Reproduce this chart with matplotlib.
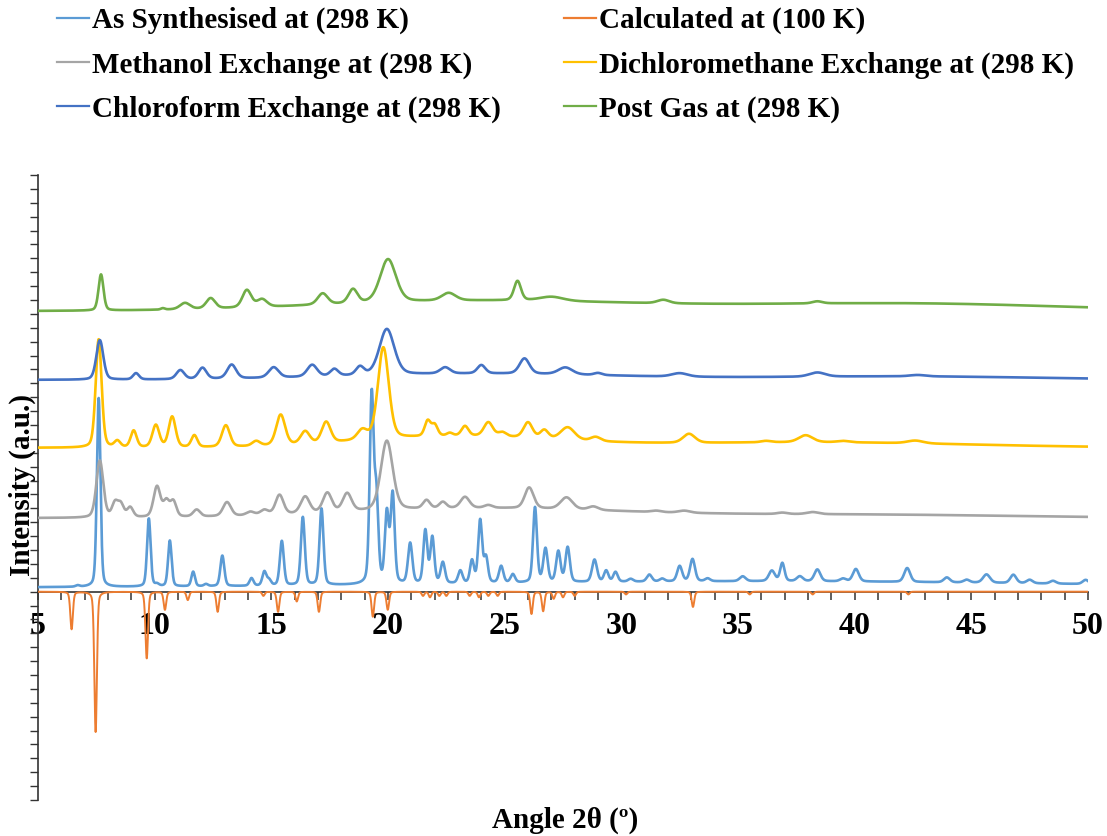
import numpy as np
from matplotlib import pyplot as plt
from matplotlib.lines import Line2D

plt.rcParams['font.family'] = ['Liberation Serif', 'DejaVu Serif']
plt.rcParams['font.weight'] = 'bold'

# Peak tables for each pattern: centre (2theta, deg), height, FWHM (deg).
# Heights are in the stacked intensity units of the plot.
as_synth_offset = 0.3
as_synth_pos = [6.7, 7.6, 9.75, 10.1, 10.65, 11.65, 12.2, 12.9, 14.15, 14.7, 14.9,
                15.45, 16.35, 17.15, 19.3, 19.5, 19.95, 20.2, 20.95, 21.6, 21.9,
                22.35, 23.1, 23.6, 23.95, 24.2, 24.85, 25.35, 26.3, 26.75, 27.3,
                27.7, 28.85, 29.35, 29.75, 30.4, 31.2, 31.75, 32.5, 33.05, 33.7,
                35.2, 36.45, 36.9, 37.65, 38.4, 39.5, 40.05, 42.25, 43.95, 44.8,
                45.65, 46.8, 47.5, 48.5, 49.9]
as_synth_amp = [0.1, 13.6, 4.9, 0.15, 3.3, 1.05, 0.15, 2.2, 0.55, 1.0, 0.4,
                3.2, 4.9, 5.5, 13.4, 6.0, 5.0, 6.4, 2.9, 3.8, 3.3,
                1.5, 0.9, 1.6, 4.5, 1.8, 1.2, 0.6, 5.4, 2.4, 2.2,
                2.5, 1.6, 0.8, 0.7, 0.2, 0.5, 0.2, 1.1, 1.6, 0.2,
                0.35, 0.75, 1.3, 0.35, 0.85, 0.2, 0.9, 1.0, 0.35, 0.2,
                0.6, 0.6, 0.25, 0.2, 0.3]
as_synth_fwhm = [0.2, 0.18, 0.18, 0.2, 0.18, 0.18, 0.2, 0.2, 0.2, 0.2, 0.2,
                 0.2, 0.2, 0.2, 0.2, 0.2, 0.2, 0.2, 0.22, 0.2, 0.2,
                 0.22, 0.22, 0.2, 0.2, 0.2, 0.22, 0.22, 0.2, 0.22, 0.22,
                 0.22, 0.25, 0.22, 0.22, 0.25, 0.25, 0.25, 0.25, 0.25, 0.25,
                 0.3, 0.3, 0.22, 0.3, 0.3, 0.3, 0.3, 0.3, 0.3, 0.3,
                 0.35, 0.3, 0.3, 0.3, 0.3]
as_synth_hump = [(36.0, 0.45, 30.0)]

calc_pos = [6.44, 7.47, 9.66, 10.44, 11.42, 12.7, 14.66, 15.29, 16.09, 17.04,
            19.35, 19.99, 21.5, 21.8, 22.2, 22.5, 23.5, 23.9, 24.3, 24.7,
            26.15, 26.65, 27.1, 27.5, 28.0, 30.2, 33.07, 35.5, 38.2, 42.3]
calc_amp = [-2.7, -10.1, -4.8, -1.3, -0.6, -1.45, -0.3, -1.45, -0.7, -1.45,
            -1.8, -1.3, -0.3, -0.4, -0.3, -0.3, -0.3, -0.4, -0.3, -0.3,
            -1.6, -1.4, -0.5, -0.4, -0.3, -0.2, -1.1, -0.2, -0.2, -0.2]
calc_fwhm = [0.13] * len(calc_pos)

meoh_offset = 5.3
meoh_pos = [7.65, 8.3, 8.55, 8.95, 10.1, 10.5, 10.8, 11.8, 13.1, 14.1, 14.7,
            15.35, 16.45, 17.4, 18.25, 19.95, 21.65, 22.35, 23.3, 24.3, 26.05,
            27.65, 28.8, 31.5, 32.7, 36.9, 38.2]
meoh_amp = [4.1, 1.0, 0.9, 0.7, 2.2, 1.1, 1.1, 0.5, 1.0, 0.25, 0.35,
            1.4, 1.2, 1.4, 1.3, 5.0, 0.6, 0.45, 0.8, 0.2, 1.5,
            0.85, 0.25, 0.1, 0.15, 0.1, 0.15]
meoh_fwhm = [0.35, 0.3, 0.3, 0.3, 0.35, 0.3, 0.3, 0.35, 0.4, 0.4, 0.4,
             0.4, 0.45, 0.45, 0.45, 0.6, 0.35, 0.35, 0.45, 0.4, 0.45,
             0.6, 0.5, 0.5, 0.6, 0.5, 0.6]
meoh_hump = [(24.0, 0.7, 14.0), (40.0, 0.25, 16.0)]

dcm_offset = 10.36
dcm_pos = [7.6, 8.4, 9.1, 10.05, 10.75, 11.7, 13.05, 14.35, 15.4, 16.45, 17.35,
           18.9, 19.8, 21.7, 22.0, 22.65, 23.3, 24.3, 24.9, 26.0, 26.7, 27.7,
           28.9, 32.9, 36.2, 37.9, 39.5, 42.6]
dcm_amp = [7.8, 0.45, 1.2, 1.6, 2.2, 0.85, 1.55, 0.35, 2.2, 0.9, 1.5,
           0.7, 6.6, 1.1, 0.8, 0.2, 0.7, 1.0, 0.3, 1.1, 0.6, 0.9,
           0.3, 0.65, 0.1, 0.5, 0.1, 0.2]
dcm_fwhm = [0.3, 0.3, 0.3, 0.35, 0.35, 0.3, 0.4, 0.4, 0.45, 0.45, 0.45,
            0.5, 0.55, 0.3, 0.3, 0.3, 0.35, 0.45, 0.4, 0.45, 0.4, 0.7,
            0.5, 0.6, 0.5, 0.7, 0.6, 0.8]
dcm_hump = [(23.0, 0.8, 10.0), (38.0, 0.4, 16.0)]

chcl3_offset = 15.25
chcl3_pos = [7.65, 9.2, 11.1, 12.05, 13.3, 15.1, 16.75, 17.7, 18.8, 19.95,
             22.45, 24.0, 25.85, 27.6, 29.0, 32.5, 38.4, 42.7]
chcl3_amp = [2.85, 0.45, 0.65, 0.8, 1.0, 0.75, 0.85, 0.5, 0.6, 3.3,
             0.45, 0.6, 1.1, 0.5, 0.15, 0.25, 0.3, 0.1]
chcl3_fwhm = [0.35, 0.3, 0.4, 0.4, 0.45, 0.5, 0.5, 0.4, 0.4, 0.75,
              0.5, 0.4, 0.5, 0.7, 0.4, 0.8, 0.8, 0.8]
chcl3_hump = [(24.0, 0.45, 14.0), (42.0, 0.25, 14.0)]

gas_offset = 20.2
gas_pos = [7.7, 10.35, 11.3, 12.4, 13.95, 14.6, 17.2, 18.5, 20.0, 22.6,
           25.55, 27.0, 31.8, 38.4]
gas_amp = [2.6, 0.1, 0.45, 0.75, 1.25, 0.55, 0.8, 1.0, 3.1, 0.55,
           1.4, 0.3, 0.25, 0.15]
gas_fwhm = [0.25, 0.2, 0.5, 0.45, 0.45, 0.5, 0.5, 0.45, 0.8, 0.7,
            0.35, 1.2, 0.6, 0.5]
gas_hump = [(24.0, 0.75, 16.0), (42.0, 0.55, 16.0)]

labels = ['As Synthesised at (298 K)', 'Calculated at (100 K)',
          'Methanol Exchange at (298 K)', 'Dichloromethane Exchange at (298 K)',
          'Chloroform Exchange at (298 K)', 'Post Gas at (298 K)']
colors = ['#5B9BD5', '#ED7D31', '#A5A5A5', '#FFC000', '#4472C4', '#70AD47']


def pattern(x, pos, amp, fwhm, offset=0.0, humps=()):
    y = np.full_like(x, offset)
    for c, h, w in zip(pos, amp, fwhm):
        u = (x - c) / w
        y += h * (0.7 * np.exp(-4 * np.log(2) * u ** 2) + 0.3 / (1 + 4 * u ** 2))
    for c, h, w in humps:
        y += h * np.exp(-4 * np.log(2) * ((x - c) / w) ** 2)
    return y


tt = np.linspace(5, 50, 4501)
curves = [
    pattern(tt, as_synth_pos, as_synth_amp, as_synth_fwhm, as_synth_offset, as_synth_hump),
    pattern(tt, calc_pos, calc_amp, calc_fwhm),
    pattern(tt, meoh_pos, meoh_amp, meoh_fwhm, meoh_offset, meoh_hump),
    pattern(tt, dcm_pos, dcm_amp, dcm_fwhm, dcm_offset, dcm_hump),
    pattern(tt, chcl3_pos, chcl3_amp, chcl3_fwhm, chcl3_offset, chcl3_hump),
    pattern(tt, gas_pos, gas_amp, gas_fwhm, gas_offset, gas_hump),
]

fig = plt.figure(figsize=(11.07, 8.36), dpi=100)
ax = fig.add_axes([38 / 1107, 36 / 836, 1050 / 1107, 625 / 836])

handles = []
for i, (yy, col, lab) in enumerate(zip(curves, colors, labels)):
    lw = 1.4 if i == 1 else 1.9
    ax.plot(tt, yy, color=col, lw=lw, zorder=3 + i)
    handles.append(Line2D([], [], color=col, lw=1.6, label=lab))

ax.set_xlim(5, 50)
ax.set_ylim(-15, 30)
ax.spines['bottom'].set_position(('data', 0))
ax.spines['top'].set_visible(False)
ax.spines['right'].set_visible(False)
for s in ['bottom', 'left']:
    ax.spines[s].set_color('#333333')
    ax.spines[s].set_linewidth(1.2)

ax.set_xticks(np.arange(5, 51, 5))
ax.set_xticks(np.arange(5, 51, 1), minor=True)
ax.set_yticks(np.arange(-15, 31, 1))
ax.set_yticklabels([])
ax.tick_params(axis='x', which='both', direction='out', length=6, width=1.1,
               color='#333333', labelsize=23, pad=9)
ax.tick_params(axis='y', direction='out', length=6, width=1.0, color='#333333')
for lbl in ax.get_xticklabels():
    lbl.set_fontweight('bold')

fig.text(22 / 1107, 1 - 485 / 836, 'Intensity (a.u.)', fontsize=21,
         fontweight='bold', rotation=90, ha='center', va='center')
fig.text(565 / 1107, 1 - 820 / 836, 'Angle 2θ (º)', fontsize=21,
         fontweight='bold', ha='center', va='center')

# legend in two columns across the top
order_left = [0, 2, 4]
order_right = [1, 3, 5]
leg_kw = dict(frameon=False, handlelength=1.1, handletextpad=0.1,
              labelspacing=0.58, borderpad=0, borderaxespad=0, loc='upper left',
              prop={'weight': 'bold', 'size': 21})
fig.legend(handles=[handles[i] for i in order_left],
           bbox_to_anchor=(57 / 1107, 1 - 7 / 836), **leg_kw)
fig.legend(handles=[handles[i] for i in order_right],
           bbox_to_anchor=(564 / 1107, 1 - 7 / 836), **leg_kw)

fig.savefig('out.png', dpi=100)
